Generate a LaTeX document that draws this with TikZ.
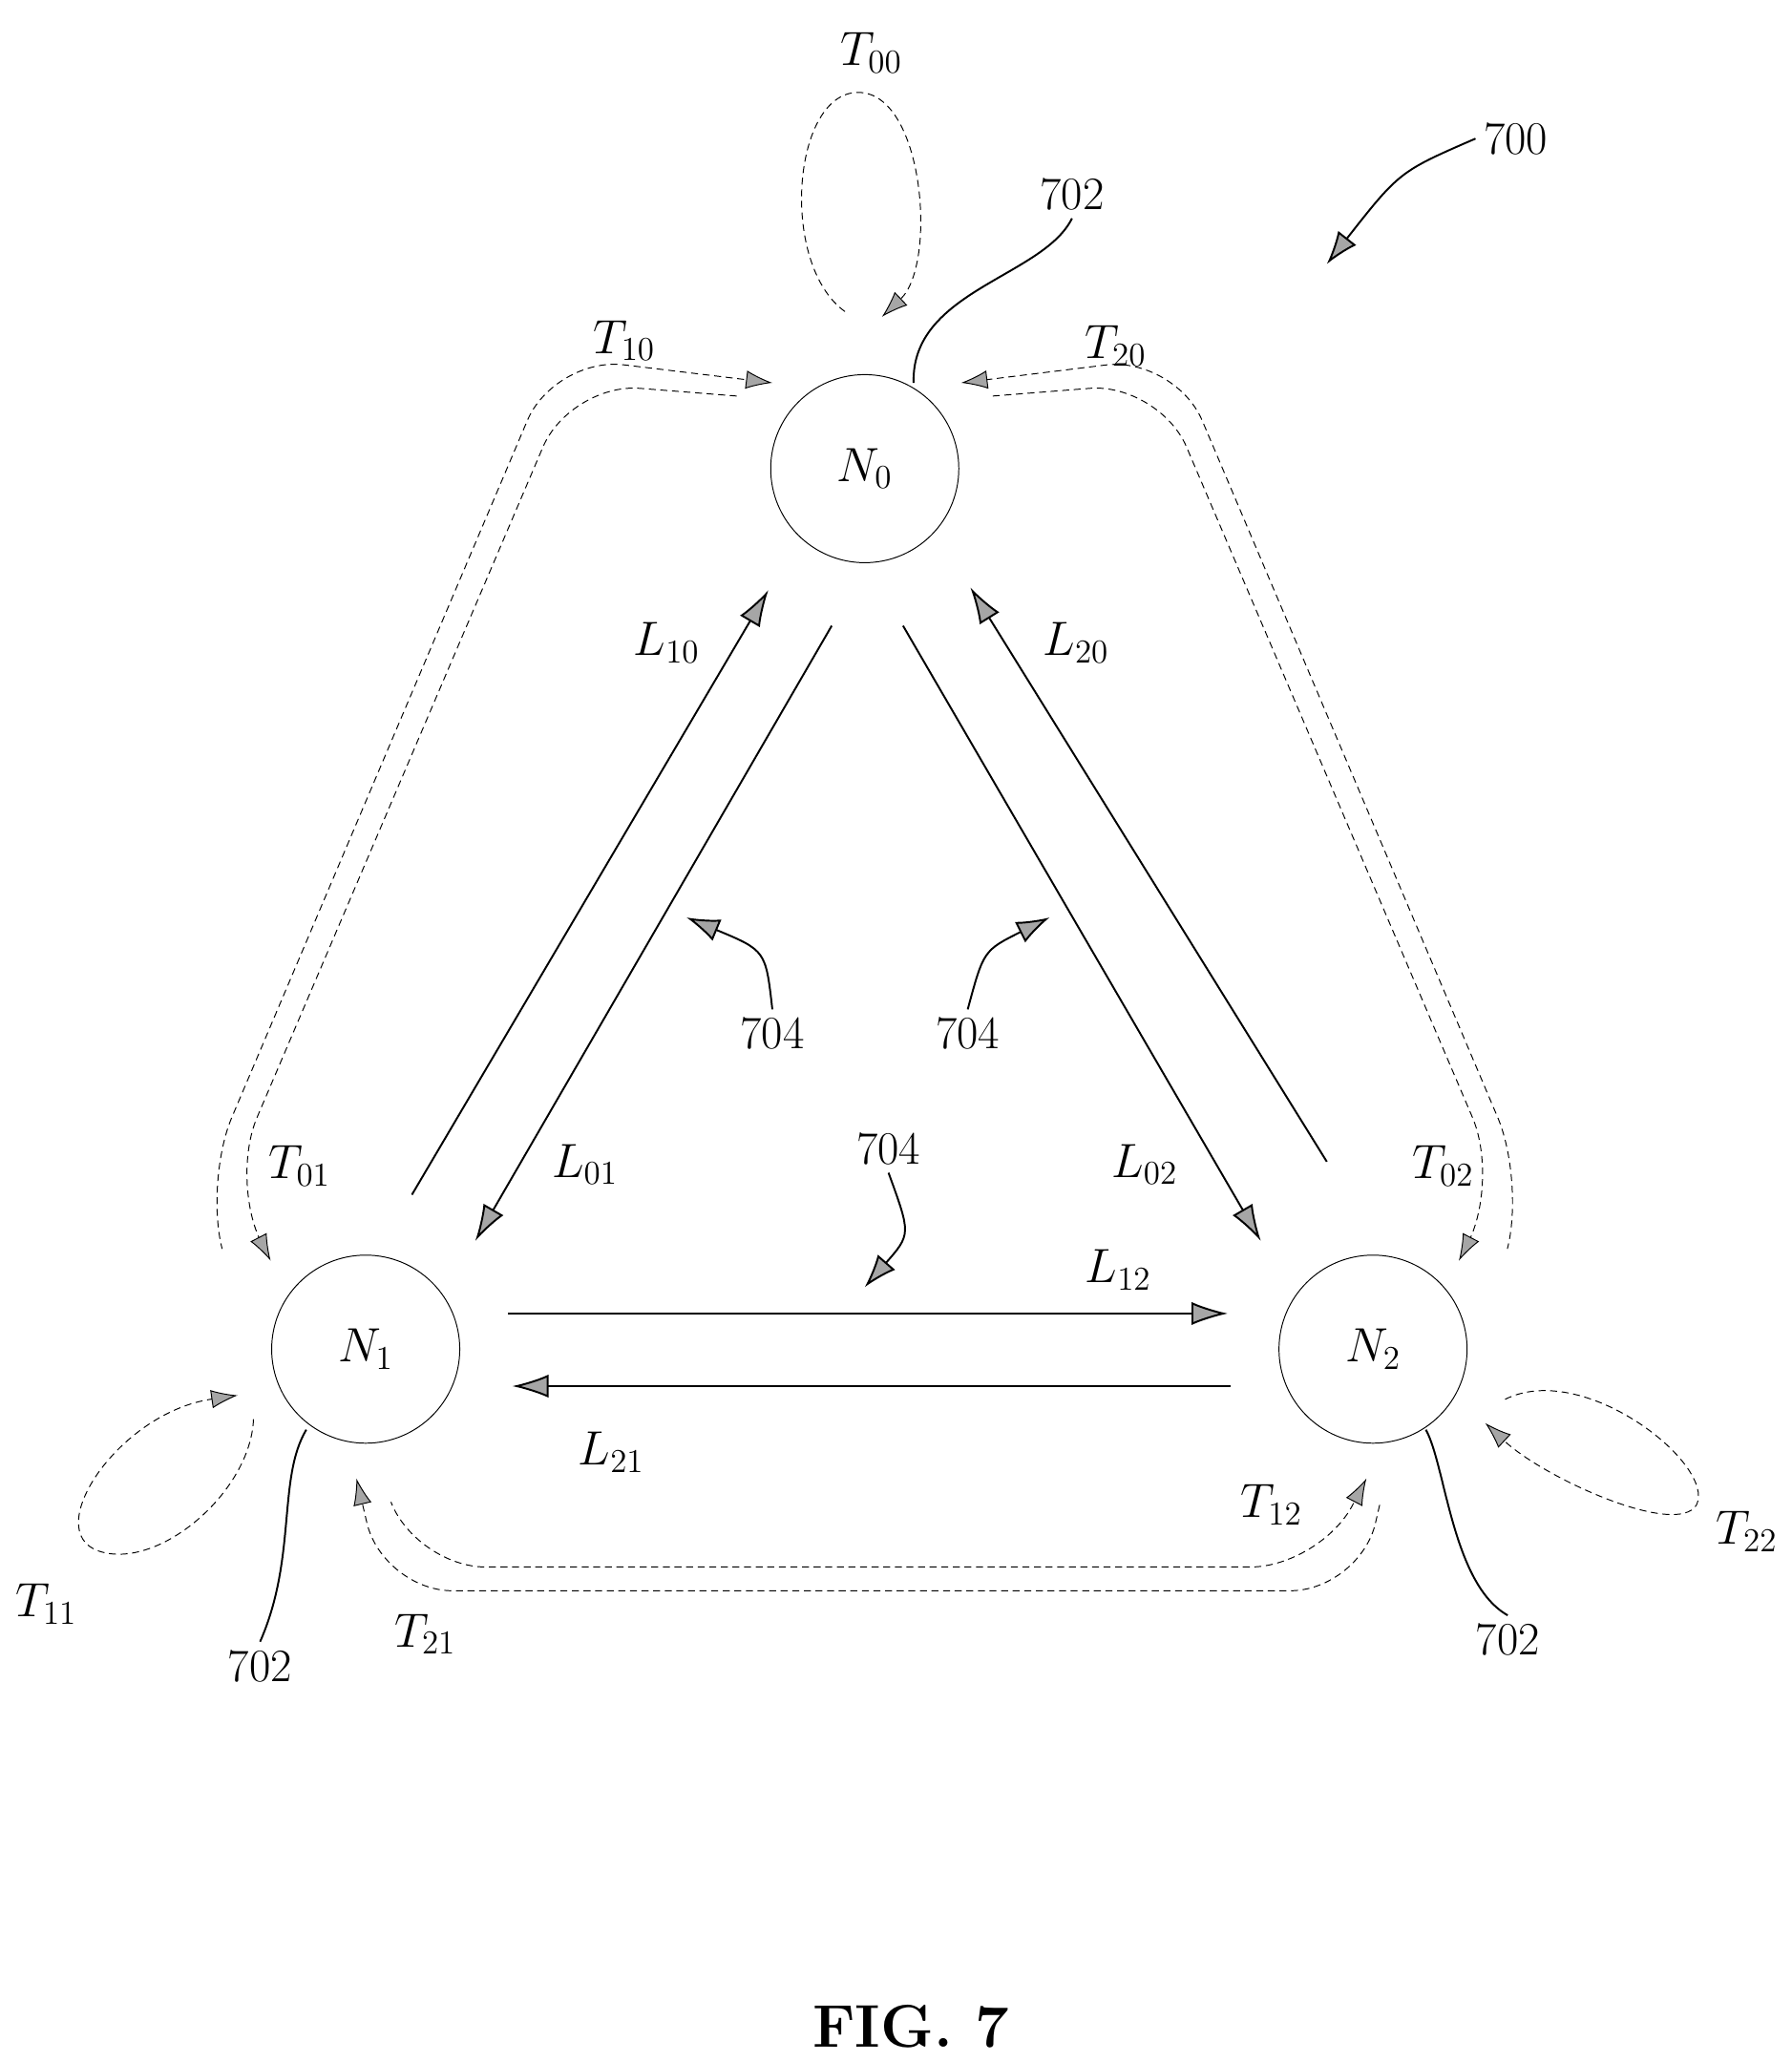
\documentclass[tikz,border=0pt]{standalone}
\usetikzlibrary{arrows.meta}
\begin{document}
\begin{tikzpicture}[
    x=0.02cm, y=-0.02cm,
    every node/.style={font=\fontsize{20}{24}\selectfont},
    nodecirc/.style={draw, circle, minimum size=2.85cm, inner sep=0pt},
    link/.style={thick, -{Latex[length=0.55cm, width=0.35cm, fill=gray!70]}},
    trip/.style={densely dashed, thin, rounded corners=30, -{Latex[length=0.4cm, width=0.28cm, fill=gray!70]}},
    loopy/.style={densely dashed, thin, -{Latex[length=0.4cm, width=0.28cm, fill=gray!70]}},
    refarrow/.style={thick, -{Latex[length=0.5cm, width=0.35cm, fill=gray!70]}},
    refline/.style={thick}
]
\useasboundingbox (0,0) rectangle (1357,1562);

% nodes
\node[nodecirc] (n0) at (655,355) {$N_0$};
\node[nodecirc] (n1) at (277,1022) {$N_1$};
\node[nodecirc] (n2) at (1040,1022) {$N_2$};

% links
\coordinate (a10) at (312,905); \coordinate (b10) at (582,447);
\coordinate (a01) at (630,474); \coordinate (b01) at (360,940);
\coordinate (a20) at (1005,880); \coordinate (b20) at (735,445);
\coordinate (a02) at (684,474); \coordinate (b02) at (955,940);
\coordinate (a12) at (385,995); \coordinate (b12) at (930,995);
\coordinate (a21) at (932,1050); \coordinate (b21) at (388,1050);
\draw[link] (a10) -- (b10);
\draw[link] (a01) -- (b01);
\draw[link] (a20) -- (b20);
\draw[link] (a02) -- (b02);
\draw[link] (a12) -- (b12);
\draw[link] (a21) -- (b21);

\node (l10) at (505,487) {$L_{10}$};
\node (l20) at (815,487) {$L_{20}$};
\node (l01) at (443,882) {$L_{01}$};
\node (l02) at (867,882) {$L_{02}$};
\node (l12) at (847,962) {$L_{12}$};
\node (l21) at (463,1100) {$L_{21}$};

% transfer paths
\draw[trip] (168,945) -- (155,895) -- (420,270) -- (585,290);
\draw[trip] (558,300) -- (432,290) -- (174,895) -- (205,955);
\draw[trip] (1142,945) -- (1155,895) -- (890,270) -- (728,290);
\draw[trip] (752,300) -- (878,290) -- (1136,895) -- (1105,955);
\draw[trip] (1045,1140) -- (1030,1205) -- (290,1205) -- (270,1120);
\draw[trip] (297,1140) -- (315,1187) -- (1000,1187) -- (1035,1120);

% self loops
\draw[loopy] (640,236) .. controls (590,200) and (600,70) .. (650,70)
    .. controls (700,70) and (710,200) .. (668,240);
\draw[loopy] (192,1075) .. controls (190,1130) and (120,1190) .. (75,1175)
    .. controls (30,1160) and (90,1070) .. (180,1057);
\draw[loopy] (1140,1060) .. controls (1200,1030) and (1300,1110) .. (1285,1140)
    .. controls (1270,1165) and (1170,1120) .. (1125,1078);

\node (t00) at (660,40) {$T_{00}$};
\node (t10) at (473,258) {$T_{10}$};
\node (t20) at (845,262) {$T_{20}$};
\node (t01) at (227,883) {$T_{01}$};
\node (t02) at (1093,883) {$T_{02}$};
\node (t11) at (35,1215) {$T_{11}$};
\node (t21) at (322,1238) {$T_{21}$};
\node (t12) at (963,1140) {$T_{12}$};
\node (t22) at (1323,1160) {$T_{22}$};

% reference numerals
\node (r700) at (1148,105) {700};
\draw[refarrow] (r700.west) .. controls (1060,130) .. (1005,200);
\node (r702a) at (812,147) {702};
\draw[refline] (r702a.south) .. controls (790,210) and (690,220) .. (692,290);
\node (r702b) at (197,1262) {702};
\draw[refline] (r702b.north) .. controls (225,1180) and (210,1120) .. (232,1083);
\node (r702c) at (1142,1242) {702};
\draw[refline] (r702c.north) .. controls (1100,1200) and (1095,1110) .. (1080,1083);
\node (r704a) at (585,783) {704};
\draw[refarrow] (r704a.north) .. controls (580,720) .. (520,695);
\node (r704b) at (733,783) {704};
\draw[refarrow] (r704b.north) .. controls (745,720) .. (795,695);
\node (r704c) at (673,870) {704};
\draw[refarrow] (r704c.south) .. controls (690,935) .. (655,975);

\node[font=\fontsize{26}{30}\selectfont\bfseries] (fig) at (690,1535) {FIG. 7};
\end{tikzpicture}
\end{document}
